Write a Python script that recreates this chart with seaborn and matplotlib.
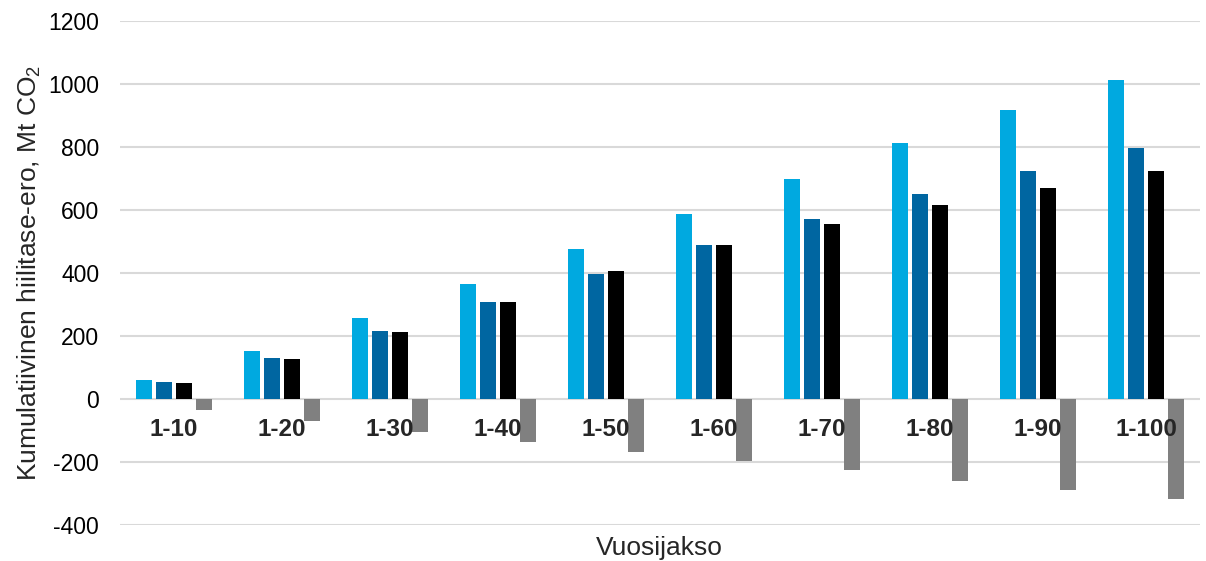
import matplotlib
matplotlib.use("Agg")
import matplotlib.pyplot as plt
import seaborn as sns
import pandas as pd

# Cumulative carbon balance difference by period (Mt CO2)
periods = ["1-10", "1-20", "1-30", "1-40", "1-50", "1-60", "1-70", "1-80", "1-90", "1-100"]
series_names = ["A", "B", "C", "D"]
series_a = [60, 153, 256, 366, 475, 588, 698, 812, 916, 1014]
series_b = [53, 129, 216, 307, 398, 488, 570, 650, 723, 797]
series_c = [52, 126, 213, 309, 405, 488, 557, 617, 670, 723]
series_d = [-35, -70, -104, -137, -168, -197, -227, -259, -290, -318]
colors = ["#00a9e0", "#0066a1", "#000000", "#808080"]

rows = []
for name, vals in zip(series_names, [series_a, series_b, series_c, series_d]):
    for p, v in zip(periods, vals):
        rows.append({"period": p, "series": name, "value": v})
df = pd.DataFrame(rows)

sns.set_theme(style="white")
plt.rcParams["font.family"] = ["Liberation Sans", "DejaVu Sans"]
plt.rcParams["mathtext.fontset"] = "custom"
plt.rcParams["mathtext.rm"] = "Liberation Sans"
plt.rcParams["mathtext.it"] = "Liberation Sans:italic"
plt.rcParams["axes.unicode_minus"] = False

fig = plt.figure(figsize=(12.06, 5.61), dpi=100)
ax = fig.add_axes([0.0995, 0.0642, 0.8955, 0.8984])

sns.barplot(data=df, x="period", y="value", hue="series", order=periods,
            hue_order=series_names, palette=colors, width=0.74, gap=0.2,
            saturation=1, edgecolor="none", legend=False, ax=ax)

ax.set_ylim(-400, 1200)
ax.set_xlim(-0.5, len(periods) - 0.5)
ax.set_yticks(range(-400, 1201, 200))
ax.yaxis.grid(True, color="#d9d9d9", linewidth=1.5)
ax.set_axisbelow(True)
# category labels sit on top of the negative bars
ax.xaxis.set_zorder(5)
for side in ["top", "right", "left"]:
    ax.spines[side].set_visible(False)
ax.spines["bottom"].set_position(("data", 0))
ax.spines["bottom"].set_visible(False)

ax.tick_params(axis="y", length=0, pad=15, labelsize=16.5, labelcolor="#000000")
ax.tick_params(axis="x", length=0, pad=13.5, labelsize=17.5)
for lbl in ax.get_xticklabels():
    lbl.set_fontweight("bold")

ax.set_xlabel("")
ax.set_ylabel("Kumulatiivinen hiilitase-ero, Mt CO$_2$", fontsize=19, labelpad=4)
fig.text(0.547, 0.024, "Vuosijakso", ha="center", va="center", fontsize=19)

fig.savefig("out.png", dpi=100)
